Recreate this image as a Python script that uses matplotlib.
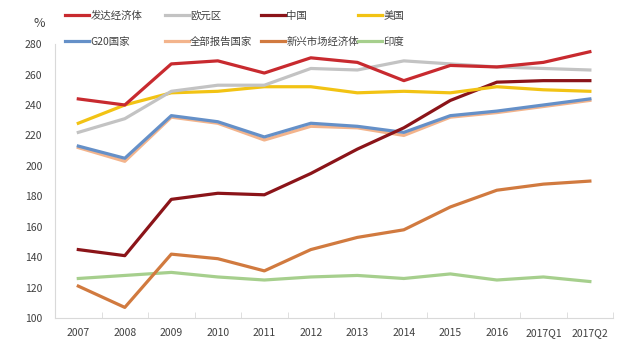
import numpy as np
import matplotlib
matplotlib.use('Agg')
import matplotlib.pyplot as plt

plt.rcParams['font.family'] = ['Noto Sans CJK SC', 'DejaVu Sans']

# categories and series
periods = ['2007', '2008', '2009', '2010', '2011', '2012', '2013', '2014',
           '2015', '2016', '2017Q1', '2017Q2']
advanced = [244, 240, 267, 269, 261, 271, 268, 256, 266, 265, 268, 275]
euro = [222, 231, 249, 253, 253, 264, 263, 269, 267, 265, 264, 263]
china = [145, 141, 178, 182, 181, 195, 211, 225, 243, 255, 256, 256]
usa = [228, 240, 248, 249, 252, 252, 248, 249, 248, 252, 250, 249]
g20 = [213, 205, 233, 229, 219, 228, 226, 222, 233, 236, 240, 244]
all_rep = [212, 203, 232, 228, 217, 226, 225, 220, 232, 235, 239, 243]
emerging = [121, 107, 142, 139, 131, 145, 153, 158, 173, 184, 188, 190]
india = [126, 128, 130, 127, 125, 127, 128, 126, 129, 125, 127, 124]

series = [
    ('发达经济体', advanced, '#c82a2f'),
    ('欧元区', euro, '#c3c3c3'),
    ('中国', china, '#8b1419'),
    ('美国', usa, '#f2c314'),
    ('G20国家', g20, '#6590c8'),
    ('全部报告国家', all_rep, '#f3b48c'),
    ('新兴市场经济体', emerging, '#d17a3f'),
    ('印度', india, '#a6cf8d'),
]

fig = plt.figure(figsize=(6.4, 3.42), dpi=100)
ax = fig.add_axes([0.086, 0.07, 0.872, 0.801])

x = np.arange(len(periods))
# draw order: background lines first so the overlaps look like the original
order = [5, 4, 7, 6, 2, 3, 1, 0]
handles = {}
for i in order:
    name, vals, col = series[i]
    h, = ax.plot(x, vals, color=col, linewidth=2.3, label=name)
    handles[i] = h

ax.set_xlim(-0.5, len(periods) - 0.5)
ax.set_ylim(100, 280)
ax.set_yticks(np.arange(100, 281, 20))
ax.set_xticks(x)
ax.set_xticklabels(periods)
ax.set_xticks(np.arange(-0.5, len(periods), 1), minor=True)
ax.tick_params(axis='x', which='major', length=0, labelsize=7.5,
               labelcolor='#404040', pad=7)
ax.tick_params(axis='x', which='minor', length=4, direction='in',
               color='#d9d9d9')
ax.tick_params(axis='y', length=0, labelsize=7.5, labelcolor='#404040', pad=9)

for s in ['top', 'right']:
    ax.spines[s].set_visible(False)
for s in ['left', 'bottom']:
    ax.spines[s].set_color('#d9d9d9')

fig.text(0.062, 0.93, '%', fontsize=9, color='#404040', ha='center', va='center')

# legend: 4 fixed-width columns of 2 rows, like the Excel original
col_x = [0.094, 0.250, 0.400, 0.552]
for c in range(4):
    idx = [c, c + 4]
    leg = fig.legend([handles[i] for i in idx], [series[i][0] for i in idx],
                     loc='upper left', bbox_to_anchor=(col_x[c], 0.983),
                     frameon=False, fontsize=7.5, handlelength=2.3,
                     handletextpad=0.15, labelspacing=1.55,
                     borderaxespad=0.15, borderpad=0.3)
    for t in leg.get_texts():
        t.set_color('#404040')

fig.savefig('out.png', dpi=100)
